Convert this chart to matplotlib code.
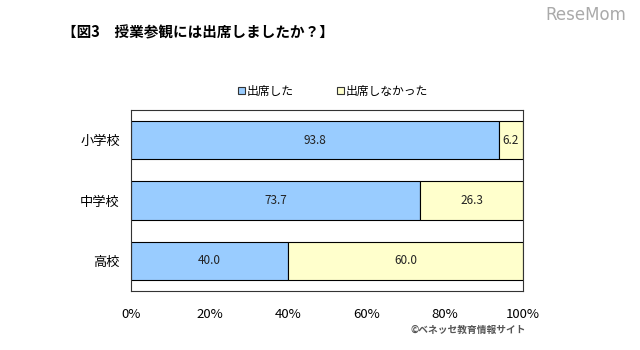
import matplotlib
matplotlib.use('Agg')
import matplotlib.pyplot as plt
from matplotlib.patches import Patch
import numpy as np

plt.rcParams['font.family'] = ['Noto Sans CJK JP', 'DejaVu Sans']

# school levels, top to bottom
schools = ['小学校', '中学校', '高校']
attended = [93.8, 73.7, 40.0]
not_attended = [6.2, 26.3, 60.0]
series_names = ['出席した', '出席しなかった']
x_ticks = [0, 20, 40, 60, 80, 100]

blue = '#99ccff'
yellow = '#ffffcc'

fig = plt.figure(figsize=(6.4, 3.5), dpi=100)
ax = fig.add_axes([131 / 640, 1 - 291 / 350, 392 / 640, 181 / 350])

y = np.arange(len(schools))
bars1 = ax.barh(y, attended, height=0.64, color=blue, edgecolor='black', linewidth=0.8)
bars2 = ax.barh(y, not_attended, left=attended, height=0.64, color=yellow,
                edgecolor='black', linewidth=0.8)

for b, v in zip(bars1, attended):
    ax.text(b.get_x() + b.get_width() / 2, b.get_y() + b.get_height() / 2,
            f'{v:.1f}', ha='center', va='center', fontsize=8.5, color='#222222')
for b, v in zip(bars2, not_attended):
    ax.text(b.get_x() + b.get_width() / 2, b.get_y() + b.get_height() / 2,
            f'{v:.1f}', ha='center', va='center', fontsize=8.5, color='#222222')

ax.set_xlim(0, 100)
ax.set_ylim(len(schools) - 0.5, -0.5)
ax.set_yticks(y)
ax.set_yticklabels(schools, fontsize=9.5)
ax.set_xticks(x_ticks)
ax.set_xticklabels([f'{t}%' for t in x_ticks], fontsize=9.5)
ax.tick_params(length=0)
ax.tick_params(axis='x', pad=12)
ax.tick_params(axis='y', pad=8)
for s in ax.spines.values():
    s.set_linewidth(0.8)
    s.set_color('#333333')

handles = [Patch(facecolor=blue, edgecolor='#333333', linewidth=0.8),
           Patch(facecolor=yellow, edgecolor='#333333', linewidth=0.8)]
fig.legend(handles, series_names, loc='center', bbox_to_anchor=(333 / 640, 1 - 91 / 350),
           ncol=2, frameon=False, fontsize=8.5, handlelength=0.6, handleheight=0.6,
           handletextpad=0.15, columnspacing=3.6)

fig.text(62 / 640, 1 - 32 / 350, '【図3　授業参観には出席しましたか？】',
         fontsize=10.5, fontweight='bold', ha='left', va='center')
fig.text(626 / 640, 1 - 15 / 350, 'ReseMom', fontsize=12, color='#aaaaaa',
         ha='right', va='center', family='DejaVu Sans')
fig.text(526 / 640, 1 - 330 / 350, '©ベネッセ教育情報サイト', fontsize=7,
         color='#555555', ha='right', va='center', fontweight='bold')

fig.savefig('out.png', dpi=100)
